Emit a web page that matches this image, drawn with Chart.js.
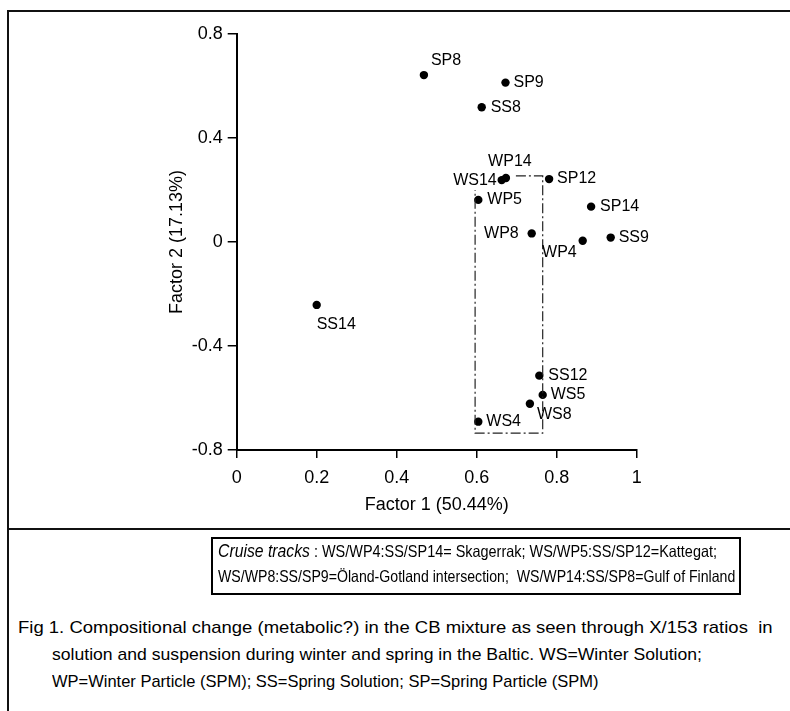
<!DOCTYPE html>
<html><head><meta charset="utf-8">
<script src="https://cdn.jsdelivr.net/npm/chart.js@4"></script>
<style>
html,body{margin:0;padding:0;background:#fff;}
body{width:790px;height:711px;position:relative;overflow:hidden;font-family:"Liberation Sans",Arial,sans-serif;color:#000;}
#wrap{position:absolute;left:0;top:0;width:790px;height:540px;}
.hl{position:absolute;background:#111;}
.fit{position:absolute;white-space:nowrap;transform-origin:0 50%;line-height:20px;height:20px;}
#box{position:absolute;left:211px;top:537px;width:526px;height:54px;border:2px solid #000;}
.cap{font-family:"Liberation Sans Narrow","Liberation Sans",Arial,sans-serif;font-size:17px;}
</style></head><body>
<div id="wrap"><canvas id="c" width="790" height="540"></canvas></div>
<div class="hl" style="left:7px;top:10px;width:783px;height:2px"></div>
<div class="hl" style="left:7px;top:10px;width:2px;height:701px"></div>
<div class="hl" style="left:7px;top:528px;width:783px;height:2px"></div>
<div id="box"></div>
<div class="fit" data-w="499" style="left:218px;top:541px;font-size:16.5px"><i style="font-size:18px">Cruise tracks</i> : WS/WP4:SS/SP14= Skagerrak; WS/WP5:SS/SP12=Kattegat;</div>
<div class="fit" data-w="517" style="left:218px;top:566px;font-size:16.5px">WS/WP8:SS/SP9=Öland-Gotland intersection;&nbsp; WS/WP14:SS/SP8=Gulf of Finland</div>
<div class="fit cap" data-w="755" style="left:18px;top:618px">Fig 1. Compositional change (metabolic?) in the CB mixture as seen through X/153 ratios&nbsp; in</div>
<div class="fit cap" data-w="650" style="left:52px;top:645px">solution and suspension during winter and spring in the Baltic. WS=Winter Solution;</div>
<div class="fit cap" data-w="547" style="left:52px;top:672px">WP=Winter Particle (SPM); SS=Spring Solution; SP=Spring Particle (SPM)</div>
<script>
// ---- data ----
const pointNames = ['SP8','SP9','SS8','WS14','WP14','SP12','WP5','SP14','WP8','WP4','SS9','SS14','SS12','WS5','WS8','WS4'];
const factor1 = [0.468,0.672,0.6125,0.6625,0.673,0.781,0.604,0.886,0.7375,0.865,0.935,0.200,0.7565,0.765,0.733,0.604];
const factor2 = [0.642,0.613,0.518,0.238,0.246,0.242,0.162,0.136,0.033,0.005,0.017,-0.242,-0.514,-0.588,-0.622,-0.691];
const xTickValues = [0,0.2,0.4,0.6,0.8,1];
const yTickValues = [-0.8,-0.4,0,0.4,0.8];
const bracketF1 = [0.698,0.765,0.765,0.596,0.596];
const bracketF2 = [0.254,0.254,-0.735,-0.735,0.200];

// ---- label placement (style only) ----
const labelStyle = {
  SP8:{dx:7,dy:-14,align:'left'}, SP9:{dx:8,dy:0,align:'left'}, SS8:{dx:9,dy:0,align:'left'},
  WS14:{dx:-5,dy:0,align:'right'}, WP14:{dx:4,dy:-16,align:'center'}, SP12:{dx:8,dy:0,align:'left'},
  WP5:{dx:9,dy:0,align:'left'}, SP14:{dx:9,dy:0,align:'left'}, WP8:{dx:-13,dy:0,align:'right'},
  WP4:{dx:-6,dy:12,align:'right'}, SS9:{dx:8,dy:0,align:'left'}, SS14:{dx:0,dy:20,align:'left'},
  SS12:{dx:9,dy:0,align:'left'}, WS5:{dx:8,dy:0,align:'left'}, WS8:{dx:7,dy:11,align:'left'},
  WS4:{dx:8,dy:0,align:'left'}
};
const FONT = '"Liberation Sans", Arial, sans-serif';

const labelPlugin = {
  id:'pointLabels',
  afterDatasetsDraw(chart){
    const ctx = chart.ctx, xs = chart.scales.x, ys = chart.scales.y;
    ctx.save();
    ctx.font = '16px ' + FONT;
    ctx.fillStyle = '#000';
    ctx.textBaseline = 'middle';
    pointNames.forEach((n,i)=>{
      const st = labelStyle[n];
      ctx.textAlign = st.align;
      ctx.fillText(n, xs.getPixelForValue(factor1[i]) + st.dx, ys.getPixelForValue(factor2[i]) + st.dy);
    });
    ctx.restore();
  }
};

const pts = factor1.map((x,i)=>({x:x, y:factor2[i]}));
const bracket = bracketF1.map((x,i)=>({x:x, y:bracketF2[i]}));

new Chart(document.getElementById('c'), {
  type:'scatter',
  data:{datasets:[
    {data:bracket, showLine:true, pointRadius:0, borderColor:'#222', borderWidth:1.2, borderDash:[10,3,2,3], fill:false, tension:0},
    {data:pts, pointRadius:4.2, pointHoverRadius:4.2, backgroundColor:'#000', borderWidth:0}
  ]},
  options:{
    responsive:false, animation:false, events:[],
    layout:{padding:{left:166, top:34, right:153.3, bottom:24.2}},
    plugins:{legend:{display:false}, tooltip:{enabled:false}},
    scales:{
      x:{type:'linear', min:0, max:1,
        afterBuildTicks:s=>{ s.ticks = xTickValues.map(v=>({value:v})); },
        afterFit:s=>{ s.height = 65.8; },
        ticks:{callback:v=>String(v), color:'#000', font:{family:FONT, size:18}, padding:9, maxRotation:0, autoSkip:false},
        grid:{drawOnChartArea:false, drawTicks:true, tickLength:8, color:'#000', lineWidth:1.5},
        border:{display:true, color:'#000', width:2},
        title:{display:true, text:'Factor 1 (50.44%)', color:'#000', font:{family:FONT, size:18}, padding:{top:0,bottom:0}}
      },
      y:{type:'linear', min:-0.8, max:0.8,
        afterBuildTicks:s=>{ s.ticks = yTickValues.map(v=>({value:v})); },
        afterFit:s=>{ s.width = 70.7; },
        ticks:{callback:v=>String(v), color:'#000', font:{family:FONT, size:18}, padding:5, autoSkip:false},
        grid:{drawOnChartArea:false, drawTicks:true, tickLength:9, color:'#000', lineWidth:1.5},
        border:{display:true, color:'#000', width:2},
        title:{display:true, text:'Factor 2 (17.13%)', color:'#000', font:{family:FONT, size:18}, padding:{top:0,bottom:0}}
      }
    }
  },
  plugins:[labelPlugin]
});

document.querySelectorAll('.fit').forEach(el=>{
  const w = el.scrollWidth, target = parseFloat(el.dataset.w);
  if (w > 0) el.style.transform = 'scaleX(' + (target / w) + ')';
});
</script>
</body></html>
